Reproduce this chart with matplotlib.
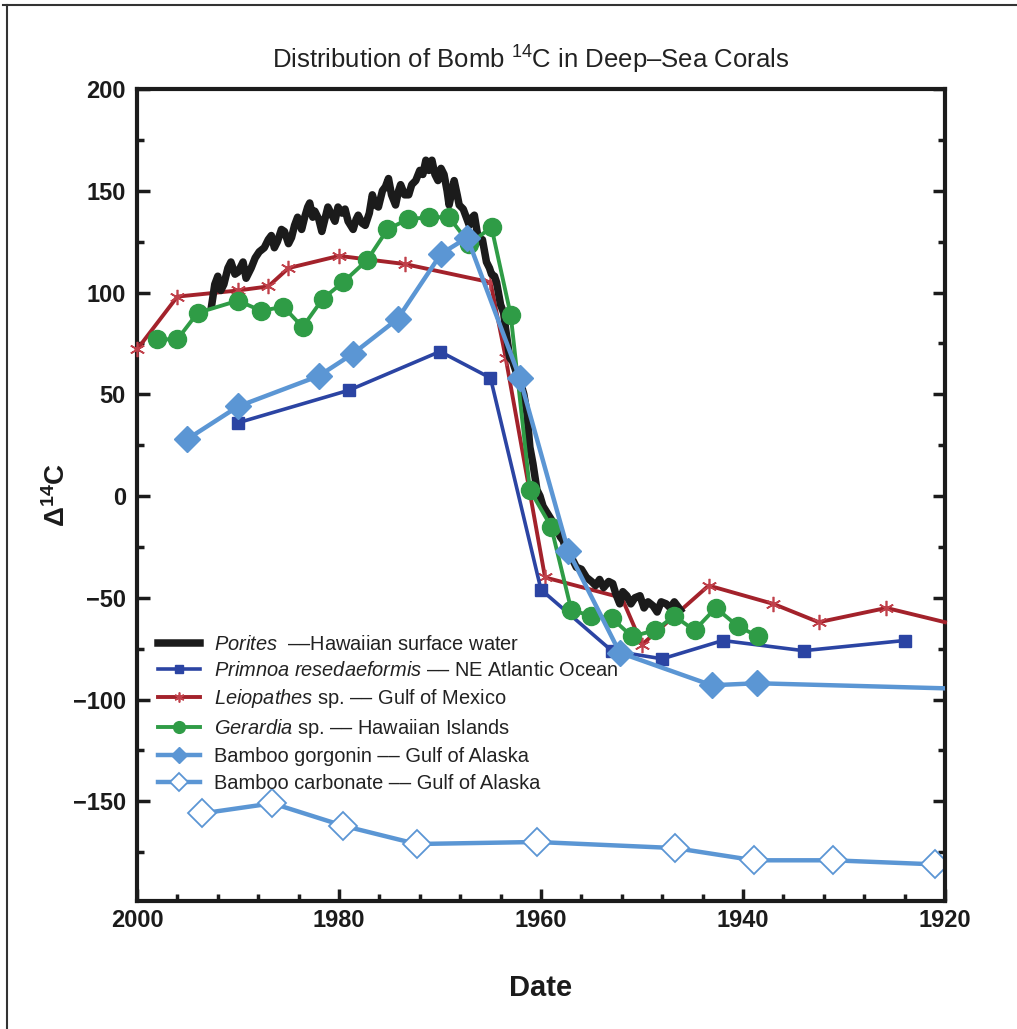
import matplotlib.pyplot as plt
from matplotlib.lines import Line2D
from matplotlib.ticker import MultipleLocator

plt.rcParams["font.family"] = ["Liberation Sans", "DejaVu Sans"]
plt.rcParams["mathtext.fontset"] = "custom"
plt.rcParams["mathtext.rm"] = "Liberation Sans"
plt.rcParams["mathtext.it"] = "Liberation Sans:italic"
plt.rcParams["mathtext.bf"] = "Liberation Sans:bold"

# Porites -- Hawaiian surface water
porites_year = [1992.6, 1992.3, 1992.0, 1991.7, 1991.4, 1991.0, 1990.7, 1990.3, 1990.0, 1989.5,
                1989.2, 1988.7, 1988.3, 1987.9, 1987.4, 1987.0, 1986.7, 1986.4, 1986.1, 1985.7,
                1985.4, 1985.0, 1984.7, 1984.4, 1984.1, 1983.7, 1983.4, 1983.1, 1982.9, 1982.6,
                1982.4, 1982.0, 1981.7, 1981.4, 1981.1, 1980.7, 1980.4, 1980.1, 1979.7, 1979.4,
                1979.1, 1978.6, 1978.3, 1978.1, 1977.7, 1977.4, 1977.0, 1976.7, 1976.4, 1976.1,
                1975.7, 1975.4, 1975.1, 1974.8, 1974.4, 1974.1, 1973.9, 1973.5, 1973.1, 1972.8,
                1972.4, 1972.0, 1971.7, 1971.4, 1971.1, 1970.8, 1970.5, 1970.2, 1969.9, 1969.6,
                1969.3, 1969.1, 1968.8, 1968.6, 1968.3, 1968.1, 1967.7, 1967.4, 1967.1, 1966.8,
                1966.6, 1966.3, 1966.1, 1965.8, 1965.4, 1965.1, 1964.9, 1964.6, 1964.4, 1964.0,
                1963.7, 1963.5, 1963.1, 1962.8, 1962.4, 1962.1, 1961.7, 1961.4, 1961.1, 1960.8,
                1960.4, 1960.1, 1959.8, 1959.3, 1958.8, 1958.5, 1958.1, 1957.8, 1957.5, 1957.0,
                1956.5, 1956.0, 1955.5, 1955.0, 1954.6, 1954.2, 1953.8, 1953.3, 1952.9, 1952.6,
                1952.2, 1951.9, 1951.5, 1951.1, 1950.7, 1950.2, 1949.8, 1949.4, 1948.9, 1948.5,
                1948.1, 1947.6, 1947.2, 1946.8, 1946.2]
porites_val = [94, 104, 108, 101, 104, 112, 115, 109, 110, 115,
               107, 112, 117, 120, 122, 126, 128, 122, 125, 131,
               130, 124, 127, 133, 137, 131, 137, 142, 144, 137,
               140, 136, 130, 136, 142, 138, 135, 142, 139, 141,
               135, 131, 136, 138, 134, 133, 139, 148, 143, 142,
               150, 152, 156, 148, 143, 150, 153, 148, 148, 153,
               155, 160, 158, 165, 160, 165, 158, 155, 161, 158,
               150, 143, 150, 155, 148, 143, 141, 137, 133, 137,
               138, 129, 125, 126, 115, 112, 109, 108, 105, 94,
               90, 82, 68, 66, 60, 57, 50, 41, 24, 16,
               3, 0, -5, -9, -13, -15, -20, -22, -27, -30,
               -35, -36, -40, -42, -44, -41, -45, -42, -43, -48,
               -53, -47, -49, -53, -50, -49, -55, -52, -54, -57,
               -52, -53, -55, -52, -56]

# Primnoa resedaeformis -- NE Atlantic Ocean
primnoa_year = [1990, 1979, 1970, 1965, 1960, 1953, 1948, 1942, 1934, 1924]
primnoa_val = [36, 52, 71, 58, -46, -76, -80, -71, -76, -71]

# Leiopathes sp. -- Gulf of Mexico
leio_year = [2000, 1996, 1990, 1987, 1985, 1980, 1973.5, 1965, 1963.5, 1959.6,
             1952, 1950, 1943.4, 1937, 1932.5, 1925.8, 1920]
leio_val = [72, 98, 101, 103, 112, 118, 114, 105, 68, -40,
            -50, -73, -44, -53, -62, -55, -62]

# Gerardia sp. -- Hawaiian Islands
gerardia_year = [1998, 1996, 1994, 1990, 1987.7, 1985.5, 1983.6, 1981.6, 1979.6, 1977.2,
                 1975.2, 1973.2, 1971.1, 1969.1, 1967.1, 1964.9, 1963, 1961.1, 1959, 1957,
                 1955, 1953, 1951, 1948.7, 1946.8, 1944.8, 1942.7, 1940.5, 1938.5]
gerardia_val = [77, 77, 90, 96, 91, 93, 83, 97, 105, 116,
                131, 136, 137, 137, 124, 132, 89, 3, -15, -56,
                -59, -60, -69, -66, -59, -66, -55, -64, -69]

# Bamboo gorgonin -- Gulf of Alaska
gorg_year = [1995, 1990, 1982, 1978.6, 1974.2, 1969.9, 1967.3, 1962.1, 1957.3, 1952.2,
             1943.1, 1938.6, 1920]
gorg_val = [28, 44, 59, 70, 87, 119, 127, 58, -27, -77,
            -93, -92, -94.5]

# Bamboo carbonate -- Gulf of Alaska
carb_year = [1993.6, 1986.6, 1979.6, 1972.3, 1960.4, 1946.7, 1938.9, 1931.1, 1921]
carb_val = [-156, -151, -162, -171, -170, -173, -179, -179, -181]

black = "#1b1b1b"
dark_blue = "#2b44a3"
dark_red = "#a3222b"
green = "#2f9c46"
light_blue = "#5b96d4"

fig = plt.figure(figsize=(10.17, 10.29), dpi=100)
ax = fig.add_axes([137 / 1017, 1 - 901 / 1029, (945 - 137) / 1017, (901 - 89) / 1029])

ax.plot(carb_year, carb_val, color=light_blue, lw=3.2, marker="D", ms=14,
        mfc="white", mec=light_blue, mew=1.3, zorder=2,
        label="Bamboo carbonate –– Gulf of Alaska")
ax.plot(leio_year, leio_val, color=dark_red, lw=2.8, marker=(6, 2, 0), ms=11,
        mec="#c0404a", mew=1.2, markevery=list(range(len(leio_year) - 1)),
        clip_on=False, zorder=3, label=r"$\mathit{Leiopathes}$ sp. –– Gulf of Mexico")
ax.plot(porites_year, porites_val, color=black, lw=5.4, zorder=4, solid_joinstyle="round",
        label=r"$\mathit{Porites}$  ––Hawaiian surface water")
ax.plot(primnoa_year, primnoa_val, color=dark_blue, lw=2.6, marker="s", ms=8.5,
        zorder=5, label=r"$\mathit{Primnoa\ resedaeformis}$ –– NE Atlantic Ocean")
ax.plot(gerardia_year, gerardia_val, color=green, lw=2.8, marker="o", ms=13,
        zorder=6, label=r"$\mathit{Gerardia}$ sp. –– Hawaiian Islands")
ax.plot(gorg_year, gorg_val, color=light_blue, lw=3.2, marker="D", ms=13,
        markevery=list(range(len(gorg_year) - 1)), zorder=7,
        label="Bamboo gorgonin –– Gulf of Alaska")

ax.set_xlim(2000, 1920)
ax.set_ylim(-199, 200)
ax.set_xticks([2000, 1980, 1960, 1940, 1920])
ax.xaxis.set_minor_locator(MultipleLocator(4))
ax.yaxis.set_major_locator(MultipleLocator(50))
ax.yaxis.set_minor_locator(MultipleLocator(25))

for s in ax.spines.values():
    s.set_linewidth(3.0)
    s.set_color(black)

ax.tick_params(which="both", direction="in", right=True, top=False, width=2.5, color=black)
ax.tick_params(which="major", length=9)
ax.tick_params(which="minor", length=5)
ax.tick_params(axis="y", which="major", pad=8)
ax.tick_params(axis="x", which="major", pad=6)
for lab in ax.get_xticklabels() + ax.get_yticklabels():
    lab.set_fontsize(17)
    lab.set_fontweight("bold")
    lab.set_color(black)

ax.set_xlabel("Date", fontsize=21, fontweight="bold", labelpad=30, color=black)
ax.set_ylabel(r"Δ$^{\mathbf{14}}$C", fontsize=20, fontweight="bold", labelpad=1, color=black)
ax.set_title(r"Distribution of Bomb $^{14}$C in Deep–Sea Corals", fontsize=18.5,
             pad=15, x=0.487, color="#222222")

handles, labels = ax.get_legend_handles_labels()
order = [2, 3, 1, 4, 5, 0]
leg = ax.legend([handles[i] for i in order], [labels[i] for i in order],
                loc="upper left", bbox_to_anchor=(0.016, 0.338), frameon=False,
                fontsize=14.4, handlelength=2.1, handletextpad=0.7,
                labelspacing=0.36, borderaxespad=0, markerscale=0.65)
for t in leg.get_texts():
    t.set_color("#222222")

# outer frame of the figure
fig.add_artist(Line2D([3 / 1017, 1.0], [1 - 5 / 1029, 1 - 5 / 1029],
                      transform=fig.transFigure, color="#333333", lw=1.5))
fig.add_artist(Line2D([7 / 1017, 7 / 1017], [0.0, 1 - 5 / 1029],
                      transform=fig.transFigure, color="#333333", lw=1.5))

fig.savefig("out.png", dpi=100)
